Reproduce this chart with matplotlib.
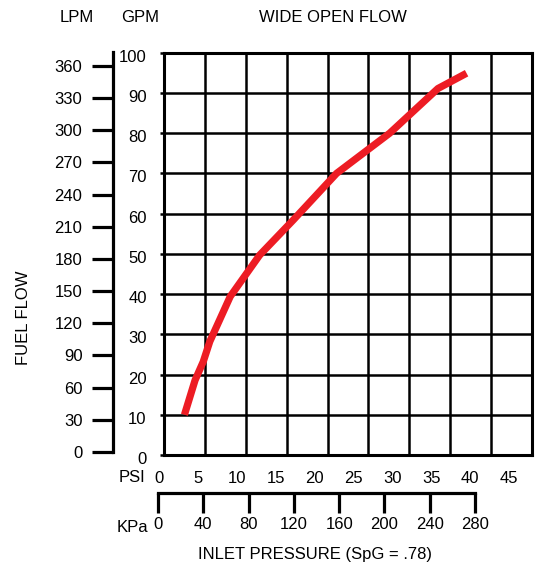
import matplotlib
matplotlib.use("Agg")
import matplotlib.pyplot as plt
import matplotlib.transforms as mtransforms

plt.rcParams['font.family'] = ['Liberation Sans', 'DejaVu Sans']

# ---- data ----
psi = [2.5, 3.8, 4.8, 5.6, 8.1, 11.7, 15.8, 21.1, 27.6, 33.5, 37.0]
gpm = [10, 18.6, 23.2, 28.2, 39.4, 49.7, 58.4, 70, 80, 91.1, 94.9]
psi_ticks = [0, 5, 10, 15, 20, 25, 30, 35, 40, 45]
gpm_ticks = [0, 10, 20, 30, 40, 50, 60, 70, 80, 90, 100]
lpm_ticks = [0, 30, 60, 90, 120, 150, 180, 210, 240, 270, 300, 330, 360]
kpa_ticks = [0, 40, 80, 120, 160, 200, 240, 280]

W, H = 549, 570
fig = plt.figure(figsize=(W / 100, H / 100), dpi=100)
FS = 12
RED = '#ED1C24'


def px_axes(x0, ytop, x1, ybot):
    return fig.add_axes([x0 / W, 1 - ybot / H, (x1 - x0) / W, (ybot - ytop) / H])


# main grid
ax = px_axes(164, 52.7, 532, 455)
ax.set_xlim(0, 45)
ax.set_ylim(0, 100)
ax.set_xticks(psi_ticks)
ax.set_yticks(gpm_ticks)
ax.grid(True, color='black', linewidth=1.8)
for s in ax.spines.values():
    s.set_linewidth(2.2)
ax.tick_params(axis='x', length=0, labelbottom=False)
ax.tick_params(axis='y', direction='out', length=3, width=1.8, pad=9.5,
               labelsize=FS)
off = mtransforms.ScaledTranslation(0, -3 / 100, fig.dpi_scale_trans)
for lab in ax.get_yticklabels():
    lab.set_transform(lab.get_transform() + off)
ax.plot(psi, gpm, color=RED, linewidth=5.2, solid_capstyle='butt',
        solid_joinstyle='round', zorder=5)

# LPM scale
axl = px_axes(113, 52, 114, 452)
axl.set_ylim(0, 373)
axl.set_yticks(lpm_ticks)
axl.set_xticks([])
for k in ('top', 'right', 'bottom'):
    axl.spines[k].set_visible(False)
axl.spines['left'].set_linewidth(2.3)
axl.tick_params(axis='y', direction='out', length=15, width=2.3, pad=7,
                labelsize=FS)
axl.patch.set_visible(False)

# PSI labels
axp = px_axes(159, 470, 509, 471)
axp.set_xlim(0, 45)
axp.set_xticks(psi_ticks)
axp.set_yticks([])
for s in axp.spines.values():
    s.set_visible(False)
axp.tick_params(axis='x', length=0, pad=0, labelsize=FS)
axp.patch.set_visible(False)

# KPa scale
axk = px_axes(158, 492, 475, 493)
axk.set_xlim(0, 280)
axk.set_xticks(kpa_ticks)
axk.set_yticks([])
for k in ('top', 'right', 'left'):
    axk.spines[k].set_visible(False)
axk.spines['bottom'].set_linewidth(2.3)
axk.spines['bottom'].set_capstyle('projecting')
axk.tick_params(axis='x', direction='out', length=14.5, width=2.3, pad=3,
                labelsize=FS)
axk.patch.set_visible(False)


def ftext(x, y, s, **kw):
    fig.text(x / W, 1 - y / H, s, fontsize=FS, ha='center', va='center', **kw)


ftext(77, 17, 'LPM')
ftext(140, 17, 'GPM')
ftext(333, 17, 'WIDE OPEN FLOW')
ftext(24, 318, 'FUEL FLOW', rotation=90)
ftext(132, 478, 'PSI')
ftext(132, 527, 'KPa')
ftext(315, 555, 'INLET PRESSURE (SpG = .78)')

fig.savefig('out.png', dpi=100)
